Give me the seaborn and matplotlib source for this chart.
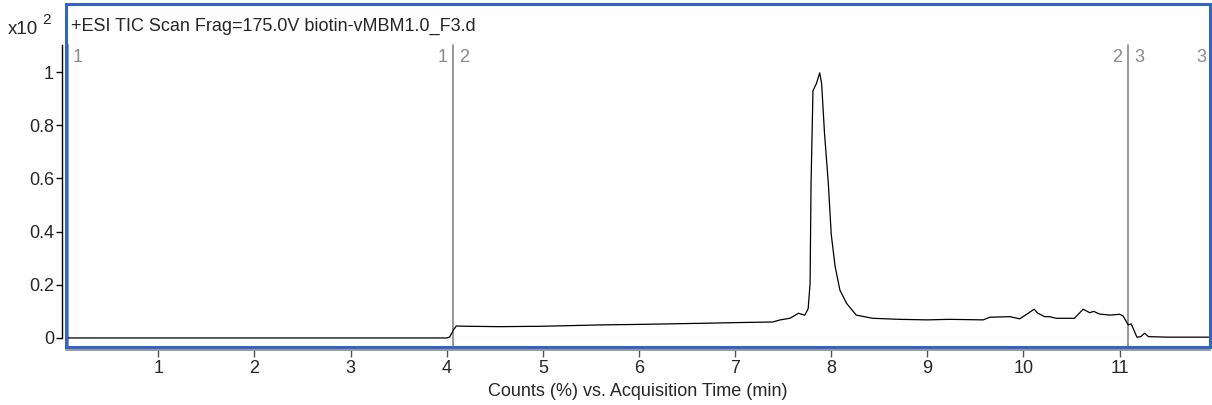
import numpy as np
import pandas as pd
import matplotlib
matplotlib.use("Agg")
import matplotlib.pyplot as plt
import seaborn as sns

# TIC trace (time in min, counts x10^2)
time_min = [0.04, 1.0, 2.0, 3.0, 4.0, 4.03, 4.07, 4.10, 4.2, 4.55, 5.0, 5.59, 6.0,
            6.63, 7.05, 7.39, 7.47, 7.57, 7.60, 7.64, 7.66, 7.70, 7.725, 7.76,
            7.78, 7.79, 7.81, 7.846, 7.88, 7.90, 7.93, 7.97, 8.00, 8.04, 8.09,
            8.16, 8.26, 8.43, 8.71, 9.0, 9.23, 9.58, 9.65, 9.86, 9.96, 10.05,
            10.11, 10.15, 10.22, 10.27, 10.34, 10.53, 10.62, 10.69, 10.73, 10.79,
            10.90, 11.0, 11.035, 11.09, 11.12, 11.18, 11.22, 11.26, 11.30, 11.5,
            11.94]
counts = [0.0, 0.0, 0.0, 0.0, 0.0, 0.003, 0.03, 0.045, 0.044, 0.0425, 0.044, 0.049,
          0.051, 0.055, 0.058, 0.060, 0.068, 0.074, 0.080, 0.089, 0.093, 0.088,
          0.086, 0.11, 0.205, 0.58, 0.93, 0.957, 0.997, 0.957, 0.77, 0.58, 0.39,
          0.27, 0.18, 0.13, 0.086, 0.074, 0.070, 0.068, 0.070, 0.068, 0.078, 0.080,
          0.072, 0.093, 0.108, 0.093, 0.080, 0.080, 0.074, 0.074, 0.108, 0.095,
          0.100, 0.090, 0.086, 0.089, 0.083, 0.049, 0.053, 0.003, 0.005, 0.018,
          0.005, 0.003, 0.003]

# acquisition segment boundaries
segment_lines = [0.065, 4.067, 11.09]
segment_labels = [(0.11, "1", "left"), (4.01, "1", "right"), (4.13, "2", "left"),
                  (11.03, "2", "right"), (11.15, "3", "left"), (11.90, "3", "right")]

x_ticks = list(range(1, 12))
y_ticks = [0, 0.2, 0.4, 0.6, 0.8, 1]
y_tick_labels = ["0", "0.2", "0.4", "0.6", "0.8", "1"]
title = "+ESI TIC Scan Frag=175.0V biotin-vMBM1.0_F3.d"
x_label = "Counts (%) vs. Acquisition Time (min)"

sns.set_style("white")
plt.rcParams['font.family'] = ['Liberation Sans', 'DejaVu Sans']

blue = "#3366c4"
fig = plt.figure(figsize=(12.12, 4.05), dpi=100)
pos = [66 / 1212, 58 / 405, 1144 / 1212, 343 / 405]
ax = fig.add_axes(pos)
xlim = (0.04, 11.94)
ylim = (-0.034, 1.256)

df = pd.DataFrame({"time": time_min, "counts": counts})
sns.lineplot(data=df, x="time", y="counts", ax=ax, color="black", lw=0.9,
             estimator=None, sort=False)

for t in segment_lines:
    ax.plot([t, t], [-0.034, 1.10], color="#999999", lw=1.4, zorder=1)
for t, lab, ha in segment_labels:
    ax.text(t, 1.055, lab, color="#8a8a8a", fontsize=13, ha=ha, va="center")

ax.set_xlim(*xlim)
ax.set_ylim(*ylim)
ax.tick_params(left=False, bottom=False, labelleft=False, labelbottom=False)
ax.set_xlabel("")
ax.set_ylabel("")
for sp in ax.spines.values():
    sp.set_visible(True)
    sp.set_color(blue)
    sp.set_linewidth(2.2)
ax.text(0.004, 0.935, title, transform=ax.transAxes, fontsize=13, ha="left", va="center")

# overlay axes for the tick scales
ax2 = fig.add_axes(pos, sharex=ax, sharey=ax)
ax2.patch.set_visible(False)
for side in ["top", "right"]:
    ax2.spines[side].set_visible(False)
ax2.spines["left"].set_position(("outward", 2.6))
ax2.spines["left"].set_bounds(0, 1.1)
ax2.spines["left"].set_color("black")
ax2.spines["left"].set_linewidth(1)
ax2.spines["bottom"].set_position(("outward", 2.4))
ax2.spines["bottom"].set_color("#888888")
ax2.spines["bottom"].set_linewidth(1.2)
ax2.set_xticks(x_ticks)
ax2.set_yticks(y_ticks)
ax2.set_yticklabels(y_tick_labels)
ax2.tick_params(axis="y", direction="out", length=4, width=1, color="black",
                labelsize=13, pad=2, left=True)
ax2.tick_params(axis="x", direction="out", length=5, width=1, color="#555555",
                labelsize=13, pad=2, bottom=True)
ax2.set_xlim(*xlim)
ax2.set_ylim(*ylim)
ax2.set_xlabel(x_label, fontsize=13, labelpad=4)

fig.text(8 / 1212, 1 - 29 / 405, "x10", fontsize=13.5, ha="left", va="center")
fig.text(42 / 1212, 1 - 20 / 405, "2", fontsize=11, ha="left", va="center")

fig.savefig("out.png", dpi=100)
